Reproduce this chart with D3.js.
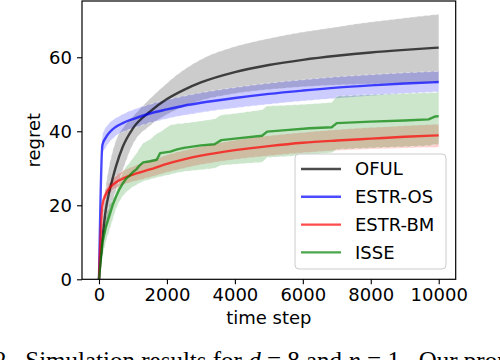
<!DOCTYPE html>
<html>
<head>
<meta charset="utf-8">
<script src="https://cdn.jsdelivr.net/npm/d3@7"></script>
<style>
  body { margin: 0; background: #fff; }
  svg { display: block; }
</style>
</head>
<body>
<svg id="chart" width="500" height="360"></svg>
<script>
// time steps shared by the smooth curves
const steps = [0, 100, 200, 300, 400, 500, 700, 1000, 1500, 2000, 2500, 3000, 4000, 5000, 6000, 7000, 8000, 9000, 10000];

const ofulMean = [0, 10.8, 18.8, 23.5, 27.2, 30.5, 35.8, 40.8, 45.3, 48.7, 51.2, 53.2, 56, 57.9, 59.3, 60.4, 61.3, 62, 62.6];
const ofulHigh = [0, 16, 25, 30.5, 34.5, 37.5, 40.8, 44, 48.8, 53, 56.6, 59.4, 62.9, 65.1, 66.8, 68.2, 69.5, 70.6, 71.6];
const ofulLow  = [0, 6, 13, 17.5, 21, 24, 29.5, 36.5, 41.5, 44.5, 46.7, 48.3, 50.2, 51.3, 52, 52.5, 52.8, 53, 53.2];

const osMean = [0, 36.3, 38.3, 39.6, 40.5, 41.2, 42.2, 43.3, 44.8, 45.9, 46.9, 47.7, 49, 50.1, 51, 51.8, 52.4, 52.9, 53.3];
const osHigh = [0, 38.8, 41, 42.2, 43, 43.6, 44.6, 45.8, 47.3, 48.5, 49.5, 50.4, 51.8, 53, 53.9, 54.7, 55.3, 55.8, 56.2];
const osLow  = [0, 33.8, 35.6, 37, 38, 38.8, 39.8, 40.8, 42.3, 43.4, 44.3, 45.1, 46.3, 47.3, 48.2, 48.9, 49.6, 50.2, 50.7];

const bmMean = [0, 20, 23, 24.5, 25.5, 26.2, 27.2, 28.3, 29.7, 31.2, 32.4, 33.4, 34.9, 36, 36.9, 37.5, 38, 38.5, 38.9];
const bmHigh = [0, 21, 24.3, 26, 27.2, 28, 29.3, 30.5, 32, 33.6, 34.8, 35.9, 37.6, 38.8, 39.7, 40.4, 41, 41.5, 41.9];
const bmLow  = [0, 19, 21.8, 23.1, 24, 24.6, 25.5, 26.4, 27.6, 28.9, 30, 31, 32.4, 33.4, 34.2, 34.8, 35.2, 35.5, 35.7];

// ISSE is stepped, so it gets its own time steps
const isseSteps = [0, 100, 200, 300, 400, 500, 600, 700, 800, 900, 1000, 1100, 1200, 1300, 1500, 1700, 1800, 2100, 2300, 2500,
                   3000, 3400, 3600, 4000, 4800, 4950, 5500, 6200, 6850, 7000, 8000, 9000, 9700, 9900, 10000];
const isseMean = [0, 10, 14, 17, 20, 22.3, 24.3, 25.9, 27.2, 28, 29, 29.7, 30.8, 31.6, 31.9, 32.3, 34.1, 34.5, 35.1, 35.5,
                  36.2, 36.5, 37.6, 38, 38.8, 39.9, 40.3, 40.8, 41.1, 42.2, 42.6, 42.9, 43.2, 44, 44.1];
const isseHigh = [0, 13, 17, 20, 21.5, 23.5, 27, 29, 30.5, 31.5, 32.8, 34, 35.5, 36.8, 37.8, 39.4, 39.8, 41.7, 42, 42.2,
                  42.8, 43.3, 44.4, 44.8, 45.8, 46.8, 47, 47.4, 47.8, 49.5, 49.9, 50.2, 50.4, 50.5, 50.6];
const isseLow  = [0, 6, 10, 13, 16, 19, 21, 22.5, 23.5, 24.3, 25, 25.5, 26, 26.5, 27, 27.5, 27.7, 28.3, 28.8, 29.1,
                  29.6, 30, 30.8, 31.1, 31.6, 32.9, 33.2, 33.7, 34.2, 35.1, 35.5, 35.8, 36.1, 36.4, 36.5];

const legendNames = ["OFUL", "ESTR-OS", "ESTR-BM", "ISSE"];
const xTicks = [0, 2000, 4000, 6000, 8000, 10000];
const yTicks = [0, 20, 40, 60];

const series = [
    { name: "OFUL",    t: steps,     mean: ofulMean, low: ofulLow, high: ofulHigh, color: "#000000", smooth: true },
    { name: "ESTR-OS", t: steps,     mean: osMean,   low: osLow,   high: osHigh,   color: "#0000ff", smooth: true },
    { name: "ESTR-BM", t: steps,     mean: bmMean,   low: bmLow,   high: bmHigh,   color: "#ff0000", smooth: true },
    { name: "ISSE",    t: isseSteps, mean: isseMean, low: isseLow, high: isseHigh, color: "#008000", smooth: false }
];

const FONT = "DejaVu Sans, sans-serif";
const plotLeft = 82, plotRight = 455.7, plotTop = 1, plotBottom = 279.3;

const svg = d3.select("#chart");

const x = d3.scaleLinear().domain([-500, 10500]).range([plotLeft, plotRight]);
const y = d3.scaleLinear().domain([0, 75.2]).range([plotBottom, plotTop]);

svg.append("defs").append("clipPath").attr("id", "plot-clip")
    .append("rect").attr("x", plotLeft).attr("y", plotTop)
    .attr("width", plotRight - plotLeft).attr("height", plotBottom - plotTop);

const plot = svg.append("g").attr("clip-path", "url(#plot-clip)");

// confidence bands first, then the mean lines on top
series.forEach(s => {
    const curve = s.smooth ? d3.curveMonotoneX : d3.curveLinear;
    const area = d3.area().curve(curve)
        .x(d => x(d.t))
        .y0(d => y(d.low))
        .y1(d => y(d.high));
    const edge = d3.line().curve(curve)
        .x(d => x(d.t))
        .y(d => y(d.v));

    const pts = s.t.map((t, i) => ({ t: t, low: s.low[i], high: s.high[i] }));
    plot.append("path")
        .attr("d", area(pts))
        .attr("fill", s.color)
        .attr("fill-opacity", 0.2)
        .attr("stroke", "none");
    // faint white dashed outline, like the reference
    [p => p.high, p => p.low].forEach(get => {
        plot.append("path")
            .attr("d", edge(pts.map(p => ({ t: p.t, v: get(p) }))))
            .attr("fill", "none")
            .attr("stroke", "#ffffff")
            .attr("stroke-opacity", 0.6)
            .attr("stroke-width", 0.8)
            .attr("stroke-dasharray", "4,3");
    });
});

series.forEach(s => {
    const line = d3.line().curve(s.smooth ? d3.curveMonotoneX : d3.curveLinear)
        .x(d => x(d.t))
        .y(d => y(d.v));
    plot.append("path")
        .attr("d", line(s.t.map((t, i) => ({ t: t, v: s.mean[i] }))))
        .attr("fill", "none")
        .attr("stroke", s.color)
        .attr("stroke-opacity", 0.7)
        .attr("stroke-width", 2.4)
        .attr("stroke-linejoin", "round");
});

// axes
const xAxis = svg.append("g")
    .attr("transform", `translate(0,${plotBottom})`)
    .call(d3.axisBottom(x).tickValues(xTicks).tickFormat(d3.format("d")).tickSize(5).tickPadding(4));
const yAxis = svg.append("g")
    .attr("transform", `translate(${plotLeft},0)`)
    .call(d3.axisLeft(y).tickValues(yTicks).tickSize(5).tickPadding(5));

[xAxis, yAxis].forEach(a => {
    a.select(".domain").remove();
    a.selectAll(".tick line").attr("stroke", "#000").attr("stroke-width", 1.1);
    a.selectAll(".tick text").attr("font-family", FONT).attr("font-size", 18).attr("fill", "#000");
});

// frame
svg.append("rect")
    .attr("x", plotLeft).attr("y", plotTop)
    .attr("width", plotRight - plotLeft).attr("height", plotBottom - plotTop)
    .attr("fill", "none")
    .attr("stroke", "#000")
    .attr("stroke-width", 1.2);

// axis labels
svg.append("text")
    .attr("x", (plotLeft + plotRight) / 2).attr("y", 324)
    .attr("text-anchor", "middle")
    .attr("font-family", FONT).attr("font-size", 18)
    .text("time step");

svg.append("text")
    .attr("transform", `translate(40,${(plotTop + plotBottom) / 2}) rotate(-90)`)
    .attr("text-anchor", "middle")
    .attr("font-family", FONT).attr("font-size", 18)
    .text("regret");

// legend
const legend = svg.append("g");
legend.append("rect")
    .attr("x", 295).attr("y", 154)
    .attr("width", 151).attr("height", 115)
    .attr("rx", 4)
    .attr("fill", "#ffffff").attr("fill-opacity", 0.8)
    .attr("stroke", "#cccccc").attr("stroke-width", 1);

legendNames.forEach((name, i) => {
    const s = series.find(d => d.name === name);
    const cy = 169 + i * 27.8;
    legend.append("line")
        .attr("x1", 301).attr("x2", 341)
        .attr("y1", cy).attr("y2", cy)
        .attr("stroke", s.color).attr("stroke-opacity", 0.7)
        .attr("stroke-width", 2.4);
    legend.append("text")
        .attr("x", 355).attr("y", cy)
        .attr("dy", "0.35em")
        .attr("font-family", FONT).attr("font-size", 18)
        .text(name);
});

// caption, cut off at the bottom of the page as in the reference
const caption = svg.append("text")
    .attr("x", -6).attr("y", 369)
    .attr("font-family", "Liberation Serif, Times New Roman, serif")
    .attr("font-size", 25)
    .attr("xml:space", "preserve");
caption.append("tspan").text("2.  Simulation results for ");
caption.append("tspan").attr("font-style", "italic").text("d");
caption.append("tspan").text(" = 8 and ");
caption.append("tspan").attr("font-style", "italic").text("n");
caption.append("tspan").text(" = 1.  Our proposed");
</script>
</body>
</html>
